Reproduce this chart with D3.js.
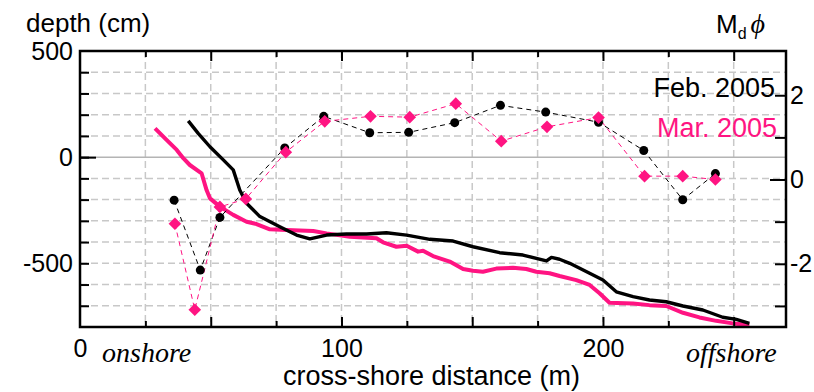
<!DOCTYPE html>
<html>
<head>
<meta charset="utf-8">
<script src="https://cdn.jsdelivr.net/npm/d3@7"></script>
<style>
  body { margin: 0; background: #fff; }
  text { font-family: "Liberation Sans", Arial, sans-serif; }
</style>
</head>
<body>
<div id="chart"></div>
<script>
// beach profile, Feb. 2005 (black) -- depth in cm vs distance in m
const febDist = [41.4, 45.2, 49.7, 54.8, 58.6, 61.1, 63.7, 68.8, 76.4, 82.8, 87.9, 94.3, 101.9, 109.6, 117.2, 124.9, 133.8, 142.7, 150.3, 160.5, 169.4, 178.4, 180.3, 183.4, 187.3, 194.9, 200, 205.1, 211.5, 217.8, 224.2, 230.6, 238.2, 245.8, 251, 256];
const febDepth = [171, 112, 49, -13, -60, -155, -217, -280, -328, -367, -385, -367, -362, -362, -356, -367, -387, -395, -422, -450, -461, -489, -472, -481, -500, -547, -579, -634, -657, -673, -681, -701, -720, -754, -764, -783];

// beach profile, Mar. 2005 (pink)
const marDist = [28.7, 33.1, 37, 39.5, 42, 46.5, 48.4, 49.7, 53.5, 58.6, 63.7, 67.5, 72.6, 79, 89.2, 94.3, 103.2, 113.4, 115.9, 121, 124.9, 129.3, 131.2, 135, 141.4, 146.5, 150.3, 154.1, 159.2, 165.6, 170.7, 174.5, 179.6, 183.4, 189.8, 194.9, 198.7, 202.5, 211.5, 217.8, 224.2, 230.6, 236.9, 243.3, 249.6, 256];
const marDepth = [136, 81, 34, -5, -37, -76, -155, -194, -233, -272, -304, -315, -340, -343, -348, -359, -375, -382, -401, -422, -417, -445, -441, -466, -492, -527, -535, -540, -525, -521, -527, -540, -547, -560, -579, -602, -641, -686, -689, -697, -701, -733, -755, -771, -783, -791];

// median grain size Md phi at sampling stations
const febGrainDist = [36, 46, 53.5, 78.3, 93.2, 110.8, 125.7, 143.3, 160.8, 178.1, 198.3, 215.6, 230.5, 243];
const febPhi = [-0.49, -2.15, -0.9, 0.75, 1.5, 1.11, 1.12, 1.35, 1.76, 1.6, 1.36, 0.69, -0.48, 0.14];
const marGrainDist = [36.3, 43.9, 53.5, 63.4, 78.7, 93.6, 111.1, 126.1, 143.7, 161.1, 178.6, 198.3, 215.9, 230.5, 243];
const marPhi = [-1.05, -3.09, -0.65, -0.46, 0.65, 1.38, 1.5, 1.48, 1.8, 0.91, 1.25, 1.47, 0.08, 0.08, 0];

const xLabels = [0, 100, 200];
const yLabels = [-500, 0, 500];
const phiLabels = [-2, 0, 2];

const pink = "#ff1482";
const W = 814, H = 392;
const pLeft = 80, pRight = 786, pTop = 51, pBottom = 327;

const svg = d3.select("#chart").append("svg")
  .attr("width", W)
  .attr("height", H);

const x = d3.scaleLinear().domain([0, 270]).range([pLeft, pRight]);
const y = d3.scaleLinear().domain([-800, 500]).range([pBottom, pTop]);
const yR = d3.scaleLinear().domain([-3.5, 3.05]).range([pBottom, pTop]);

// grid
const grid = svg.append("g");
grid.selectAll("line.v")
  .data(d3.range(25, 270, 25))
  .enter().append("line")
  .attr("x1", d => x(d)).attr("x2", d => x(d))
  .attr("y1", pTop).attr("y2", pBottom)
  .attr("stroke", "#c8c8c8").attr("stroke-width", 1.5)
  .attr("stroke-dasharray", "7,4");
grid.selectAll("line.h")
  .data(d3.range(-700, 500, 100).filter(d => d !== 0))
  .enter().append("line")
  .attr("x1", pLeft).attr("x2", pRight)
  .attr("y1", d => y(d)).attr("y2", d => y(d))
  .attr("stroke", "#c8c8c8").attr("stroke-width", 1.5)
  .attr("stroke-dasharray", "7,4");
grid.append("line")
  .attr("x1", pLeft).attr("x2", pRight)
  .attr("y1", y(0)).attr("y2", y(0))
  .attr("stroke", "#b4b4b4").attr("stroke-width", 1.5);

// profiles
const profile = (xs, ys) => d3.line()
  .x((d, i) => x(xs[i]))
  .y((d, i) => y(ys[i]))(xs);

svg.append("path")
  .attr("d", profile(marDist, marDepth))
  .attr("fill", "none").attr("stroke", pink).attr("stroke-width", 4)
  .attr("stroke-linejoin", "round");
svg.append("path")
  .attr("d", profile(febDist, febDepth))
  .attr("fill", "none").attr("stroke", "#000").attr("stroke-width", 3.4)
  .attr("stroke-linejoin", "round");

// grain size lines + markers
const grainLine = (xs, ys) => d3.line()
  .x((d, i) => x(xs[i]))
  .y((d, i) => yR(ys[i]))(xs);

svg.append("path")
  .attr("d", grainLine(febGrainDist, febPhi))
  .attr("fill", "none").attr("stroke", "#000").attr("stroke-width", 1)
  .attr("stroke-dasharray", "5,4");
svg.append("path")
  .attr("d", grainLine(marGrainDist, marPhi))
  .attr("fill", "none").attr("stroke", pink).attr("stroke-width", 1)
  .attr("stroke-dasharray", "5,4");

svg.selectAll("circle.feb")
  .data(febGrainDist)
  .enter().append("circle")
  .attr("cx", d => x(d))
  .attr("cy", (d, i) => yR(febPhi[i]))
  .attr("r", 4.5)
  .attr("fill", "#000");

const diamond = d3.symbol().type(d3.symbolSquare).size(80);
svg.selectAll("path.mar")
  .data(marGrainDist)
  .enter().append("path")
  .attr("d", diamond)
  .attr("transform", (d, i) => `translate(${x(d)},${yR(marPhi[i])}) rotate(45)`)
  .attr("fill", pink);

// axes
const fmt = d => String(d);
const styleAxis = g => {
  g.select(".domain").remove();
  g.selectAll("line").attr("stroke", "#000").attr("stroke-width", 2);
  g.selectAll("text").attr("fill", "#000").style("font-size", "25px")
    .style("font-family", "'Liberation Sans', Arial, sans-serif");
};

svg.append("g").attr("transform", `translate(${pLeft},0)`)
  .call(d3.axisLeft(y).tickValues(d3.range(-700, 500, 100)).tickSize(-9).tickFormat(""))
  .call(styleAxis);
svg.append("g").attr("transform", `translate(${pLeft},0)`)
  .call(d3.axisLeft(y).tickValues(yLabels).tickSize(0).tickPadding(7).tickFormat(fmt))
  .call(styleAxis);
svg.append("g").attr("transform", `translate(${pLeft},0)`)
  .call(d3.axisLeft(y).tickValues([0]).tickSize(-16).tickFormat(""))
  .call(styleAxis);

svg.append("g").attr("transform", `translate(${pRight},0)`)
  .call(d3.axisRight(yR).tickValues([-3, -2, -1, 1, 2]).tickSize(-11).tickFormat(""))
  .call(styleAxis);
svg.append("g").attr("transform", `translate(${pRight},0)`)
  .call(d3.axisRight(yR).tickValues([0]).tickSize(-16).tickFormat(""))
  .call(styleAxis);
svg.append("g").attr("transform", `translate(${pRight},0)`)
  .call(d3.axisRight(yR).tickValues(phiLabels).tickSize(0).tickPadding(4).tickFormat(fmt))
  .call(styleAxis);

const xMinor = d3.range(25, 270, 50);
const xMajor = d3.range(50, 270, 50);
[[pTop, d3.axisTop], [pBottom, d3.axisBottom]].forEach(([pos, ax]) => {
  svg.append("g").attr("transform", `translate(0,${pos})`)
    .call(ax(x).tickValues(xMinor).tickSize(-6).tickFormat(""))
    .call(styleAxis);
  svg.append("g").attr("transform", `translate(0,${pos})`)
    .call(ax(x).tickValues(xMajor).tickSize(-10).tickFormat(""))
    .call(styleAxis);
});
svg.append("g").attr("transform", `translate(0,${pBottom})`)
  .call(d3.axisBottom(x).tickValues(xLabels).tickSize(0).tickPadding(12).tickFormat(fmt))
  .call(styleAxis);

// frame
svg.append("rect")
  .attr("x", pLeft).attr("y", pTop)
  .attr("width", pRight - pLeft).attr("height", pBottom - pTop)
  .attr("fill", "none").attr("stroke", "#000").attr("stroke-width", 2.5);

// titles
svg.append("text").attr("x", 26).attr("y", 32)
  .style("font-size", "26px").text("depth (cm)");
svg.append("text").attr("x", 431.5).attr("y", 385)
  .attr("text-anchor", "middle")
  .style("font-size", "27px").text("cross-shore distance (m)");

const md = svg.append("text").attr("x", 716).attr("y", 33).style("font-size", "26px");
md.append("tspan").text("M");
md.append("tspan").attr("dy", 6).style("font-size", "16px").text("d");
md.append("tspan").attr("dy", -6).attr("dx", 4)
  .style("font-family", "'Liberation Serif', 'DejaVu Serif', serif")
  .style("font-style", "italic").style("font-size", "28px").text("\u03d5");

svg.append("text").attr("x", 102).attr("y", 362)
  .style("font-family", "'Liberation Serif', 'Times New Roman', serif")
  .style("font-style", "italic").style("font-size", "28px").text("onshore");
svg.append("text").attr("x", 686).attr("y", 362)
  .style("font-family", "'Liberation Serif', 'Times New Roman', serif")
  .style("font-style", "italic").style("font-size", "28px").text("offshore");

// legend
svg.append("text").attr("x", 775).attr("y", 97)
  .attr("text-anchor", "end").style("font-size", "27px")
  .attr("fill", "#000").text("Feb. 2005");
svg.append("text").attr("x", 777).attr("y", 137)
  .attr("text-anchor", "end").style("font-size", "27px")
  .attr("fill", pink).text("Mar. 2005");
</script>
</body>
</html>
